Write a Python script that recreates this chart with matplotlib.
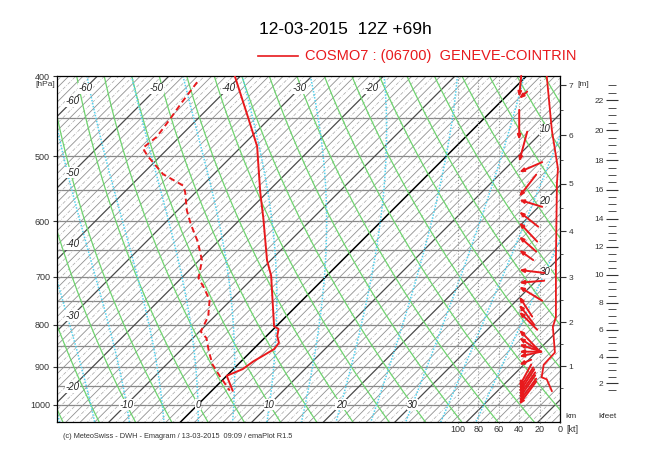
import numpy as np
import matplotlib.pyplot as plt
from matplotlib.lines import Line2D
from matplotlib.ticker import NullFormatter, FixedLocator

plt.rcParams['font.family'] = ['Liberation Sans', 'DejaVu Sans']

RED = '#e8191c'

# ---- sounding ----
temp_p = [400, 450, 487, 500, 553, 596, 669, 698, 804, 810, 826, 842, 857, 887, 906, 923, 962]
temp_t = [-40.8, -33.0, -27.8, -26.4, -21.0, -16.8, -10.5, -7.8, -0.3, 0.7, 1.5, 2.7, 2.9, 1.7, 1.3, 0.0, 2.9]

dew_p = [407, 431, 452, 474, 489, 500, 526, 543, 553, 582, 605, 635, 669, 703, 722, 747,
         782, 816, 831, 861, 894, 923, 962]
dew_t = [-45.2, -44.5, -43.8, -43.2, -43.6, -41.8, -37.1, -32.7, -31.5, -28.7, -26.2, -22.8,
         -19.6, -17.6, -15.5, -13.0, -10.9, -9.8, -8.1, -6.0, -3.6, -1.0, 2.5]

# wind speed profile [kt]
spd_p = [400, 465, 518, 539, 668, 784, 805, 865, 895, 927, 932, 963]
spd_kt = [13, 8, 2, 3, 4, 4, 7, 5, 16, 18, 13, 8]

# wind arrows: level [hPa], u, v [kt]
wind_p = [424, 426, 478, 508, 523, 560, 565, 584, 602, 626, 650, 687, 712, 720, 740, 757,
          772, 812, 830, 846, 863, 875, 895, 951, 959, 967, 975, 983, 992, 1000]
wind_u = [2, 8, 0, 8, 23, 17, 23, 19, 18, 17, 14, 25, 25, 23, 13, 15,
          18, 21, 21, 22, 22, 22, 12, 12, 14, 15, 16, 16, 17, 17]
wind_v = [21, 7, 30, 30, 10, 22, -7, -15, -19, -15, -10, -3, 2, -14, -20, -20,
          -18, -22, -14, -7, 0, 5, 5, 22, 22, 23, 23, 23, 23, 23]

p_labels = [400, 500, 600, 700, 800, 900, 1000]
km_ticks = [1, 2, 3, 4, 5, 6, 7]
kft_ticks = [2, 4, 6, 8, 10, 12, 14, 16, 18, 20, 22]
kt_ticks = [100, 80, 60, 40, 20, 0]

XL, XR = -19.72, 50.63
PB, PT = 1050, 400
K = (346 / np.log(PB / PT)) / (503 / (XR - XL))


def skx(t, p):
    return np.asarray(t) + K * np.log(1000.0 / np.asarray(p))


def isa_p(z_m):
    return 1013.25 * (1 - 0.0065 * np.asarray(z_m) / 288.15) ** 5.2559


def moist(tw):
    Rd, cp, Lv, eps = 287.04, 1005.7, 2.501e6, 0.622

    def f(t, p):
        tc = t - 273.15
        es = 6.112 * np.exp(17.67 * tc / (tc + 243.5))
        rs = eps * es / (p - es)
        return (Rd * t + Lv * rs) / (cp + Lv * Lv * rs * eps / (Rd * t * t)) / p

    out = []
    for dp in (-5.0, 5.0):
        t, p = tw + 273.15, 1000.0
        ps, ts = [p], [t]
        while PT - 5 < p + dp < PB + 10:
            k1 = f(t, p)
            k2 = f(t + 0.5 * dp * k1, p + 0.5 * dp)
            k3 = f(t + 0.5 * dp * k2, p + 0.5 * dp)
            k4 = f(t + dp * k3, p + dp)
            t += dp * (k1 + 2 * k2 + 2 * k3 + k4) / 6
            p += dp
            ps.append(p)
            ts.append(t)
        out.append((ps, ts))
    ps = out[0][0][::-1] + out[1][0][1:]
    ts = out[0][1][::-1] + out[1][1][1:]
    return np.array(ps), np.array(ts) - 273.15


fig = plt.figure(figsize=(6.5, 4.55), dpi=100)
ax = fig.add_axes([57 / 650, 1 - 422 / 455, 503 / 650, 346 / 455])
ax.set_yscale('log')
ax.set_ylim(PB, PT)
ax.set_xlim(XL, XR)

pp = np.geomspace(PB + 5, PT - 5, 60)

# pressure lines
for p in range(450, 1001, 50):
    ax.axhline(p, color='#8a8a8a', lw=0.9, zorder=1)

# isotherms
for t in range(-70, 56):
    if t == 0:
        ax.plot(skx(t, pp), pp, color='black', lw=1.1, zorder=2)
    elif t % 10 == 0:
        ax.plot(skx(t, pp), pp, color='#4a4a4a', lw=0.9, zorder=2)
    elif t % 2 == 0:
        ax.plot(skx(t, pp), pp, color='#909090', lw=0.6, zorder=1)
    else:
        ax.plot(skx(t, pp), pp, color='#a8a8a8', lw=0.5, dashes=(5, 2, 1, 2), zorder=1)

# dry adiabats
for th in range(-30, 95, 5):
    tt = (th + 273.15) * (pp / 1000.0) ** 0.2857 - 273.15
    ax.plot(skx(tt, pp), pp, color='#6fd36f', lw=0.9, zorder=2)

# saturated adiabats
for tw in range(-20, 41, 5):
    mp, mt = moist(tw)
    ax.plot(skx(mt, mp), mp, color='#55d2ee', lw=1.1, dashes=(1, 1), zorder=2)

# isotherm labels
lab_kw = dict(fontsize=7, style='italic', ha='center', va='center', color='#222222', zorder=4,
              bbox=dict(facecolor='white', edgecolor='none', pad=0.3))
for t in [-60, -50, -40, -30, -20]:
    ax.text(skx(t, 414), 414, str(t), **lab_kw)
    p_left = 1000.0 / np.exp((-17.6 - t) / K)
    ax.text(-17.6, p_left, str(t), **lab_kw)
for t in [-10, 0, 10, 20, 30]:
    ax.text(skx(t, 1000), 1000, str(t), **lab_kw)
for t in [10, 20, 30]:
    p_right = 1000.0 / np.exp((48.5 - t) / K)
    ax.text(48.5, p_right, str(t), **lab_kw)

# sounding
ax.plot(skx(temp_t, temp_p), temp_p, color=RED, lw=1.4, zorder=5)
ax.plot(skx(dew_t, dew_p), dew_p, color=RED, lw=1.4, dashes=(3, 2), zorder=5)

ax.set_yticks(p_labels)
ax.set_yticklabels([str(p) for p in p_labels])
ax.yaxis.set_minor_formatter(NullFormatter())
ax.yaxis.set_minor_locator(FixedLocator([]))
ax.tick_params(axis='y', length=3, labelsize=6.5, pad=2, colors='#333333')
ax.set_xticks([])
for s in ax.spines.values():
    s.set_linewidth(0.9)

# wind panel
ax2 = ax.twiny()
ax2.set_xlim((560 - 57) / 1.02, 0)
ax2.xaxis.set_ticks_position('bottom')
ax2.set_xticks(kt_ticks)
ax2.set_xticklabels([str(k) for k in kt_ticks])
ax2.tick_params(axis='x', length=1, labelsize=6.5, pad=1, colors='#333333')
for s in ax2.spines.values():
    s.set_visible(False)
for k in kt_ticks[:-1]:
    ax2.axvline(k, color='#9a9a9a', lw=0.8, ls=':', zorder=3)
ax2.plot(spd_kt, spd_p, color=RED, lw=1.3, zorder=5)
for p, u, v in zip(wind_p, wind_u, wind_v):
    ax2.annotate('', xy=(40, p), xytext=(u, v), textcoords='offset pixels',
                 arrowprops=dict(arrowstyle='-|>,head_length=0.25,head_width=0.1',
                                 color=RED, lw=1.4, shrinkA=0, shrinkB=0), zorder=6)

# km axis
ax3 = ax.twinx()
ax3.set_yscale('log')
ax3.set_ylim(PB, PT)
for s in ax3.spines.values():
    s.set_visible(False)
ax3.set_yticks(isa_p(np.array(km_ticks) * 1000.0))
ax3.set_yticklabels([str(k) for k in km_ticks])
ax3.yaxis.set_minor_locator(FixedLocator(isa_p(np.arange(0.5, 7.01, 0.5) * 1000.0)))
ax3.yaxis.set_minor_formatter(NullFormatter())
ax3.tick_params(axis='y', which='major', length=4, labelsize=6, pad=2, colors='#333333')
ax3.tick_params(axis='y', which='minor', length=2, colors='#333333')

# kfeet axis
ax4 = fig.add_axes([612 / 650, 1 - 422 / 455, 0.001, 346 / 455])
ax4.set_yscale('log')
ax4.set_ylim(PB, PT)
ax4.set_xticks([])
for s in ax4.spines.values():
    s.set_visible(False)
ax4.patch.set_visible(False)
ax4.set_yticks(isa_p(np.array(kft_ticks) * 304.8))
ax4.set_yticklabels([str(k) for k in kft_ticks])
ax4.yaxis.set_minor_locator(FixedLocator(isa_p(np.arange(1.5, 23.01, 0.5) * 304.8)))
ax4.yaxis.set_minor_formatter(NullFormatter())
ax4.tick_params(axis='y', which='major', direction='inout', length=8, labelsize=6, pad=2,
                colors='#333333')
ax4.tick_params(axis='y', which='minor', direction='inout', length=6, colors='#333333')

# texts
fig.text(345 / 650, 1 - 30 / 455, '12-03-2015  12Z +69h', fontsize=12.5, ha='center', va='center')
fig.add_artist(Line2D([258 / 650, 298 / 650], [1 - 56 / 455] * 2, color=RED, lw=1.2))
fig.text(305 / 650, 1 - 56 / 455, 'COSMO7 : (06700)  GENEVE-COINTRIN', color=RED,
         fontsize=10.5, va='center')
fig.text(55 / 650, 1 - 84 / 455, '[hPa]', fontsize=6, ha='right', va='center', color='#333333')
fig.text(577 / 650, 1 - 84 / 455, '[m]', fontsize=6, va='center', color='#333333')
fig.text(565 / 650, 1 - 416 / 455, 'km', fontsize=6, va='center', color='#333333')
fig.text(598 / 650, 1 - 416 / 455, 'kfeet', fontsize=6, va='center', color='#333333')
fig.text(566 / 650, 1 - 429.5 / 455, '[kt]', fontsize=6.5, va='center', color='#333333')
fig.text(63 / 650, 1 - 437 / 455,
         '(c) MeteoSwiss - DWH - Emagram / 13-03-2015  09:09 / emaPlot R1.5',
         fontsize=5.3, va='center', color='#333333')

fig.savefig('out.png', dpi=100)
